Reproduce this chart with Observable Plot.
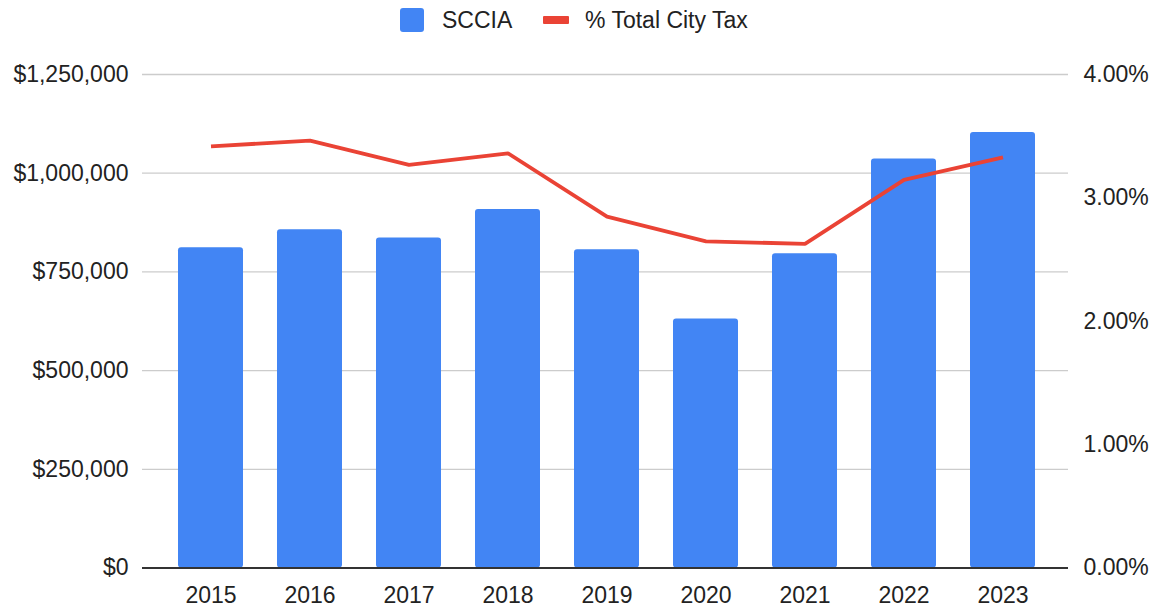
<!DOCTYPE html>
<html>
<head>
<meta charset="utf-8">
<script src="https://cdn.jsdelivr.net/npm/d3@7"></script>
<script src="https://cdn.jsdelivr.net/npm/@observablehq/plot@0.6"></script>
<style>
  html, body { margin: 0; padding: 0; background: #fff; }
  body { width: 1156px; height: 611px; overflow: hidden; font-family: "Liberation Sans", Arial, sans-serif; }
  #legend { height: 40px; position: relative; font-size: 23px; color: #222; }
  #legend .item { position: absolute; top: 8px; display: flex; align-items: center; height: 24px; }
  #legend .sw-bar { width: 24px; height: 24px; background: #4285F4; border-radius: 3px; margin-right: 18px; flex: none; }
  #legend .sw-line { width: 26px; height: 8px; background: #EA4335; border-radius: 1px; margin-right: 16px; flex: none; }
</style>
</head>
<body>
<div id="legend">
  <div class="item" style="left:400px"><div class="sw-bar"></div><span>SCCIA</span></div>
  <div class="item" style="left:543px"><div class="sw-line"></div><span>% Total City Tax</span></div>
</div>
<div id="chart"></div>
<script>
const years = ["2015","2016","2017","2018","2019","2020","2021","2022","2023"];
const sccia = [811000, 857000, 836000, 908000, 806000, 631000, 796000, 1036000, 1103000];
const pctTotalCityTax = [3.418, 3.464, 3.267, 3.361, 2.848, 2.648, 2.627, 3.146, 3.329];
const leftTicks = [0, 250000, 500000, 750000, 1000000, 1250000];
const rightTicks = [0, 1, 2, 3, 4];

const yMax = 1250000, pMax = 4;
const toY = p => p / pMax * yMax;

const rows = years.map((y, i) => ({year: y, value: sccia[i], pct: pctTotalCityTax[i], py: toY(pctTotalCityTax[i])}));

const fmtDollar = d => "$" + d3.format(",")(d);
const chart = Plot.plot({
  width: 1156,
  height: 571,
  marginLeft: 142,
  marginRight: 88,
  marginTop: 34,
  marginBottom: 43.5,
  style: {fontFamily: "'Liberation Sans', Arial, sans-serif", fontSize: "23px", color: "#222", background: "#fff"},
  x: {domain: years, paddingInner: 0.345, paddingOuter: 0, insetLeft: 35, insetRight: 32.5, label: null},
  y: {domain: [0, yMax], label: null},
  marks: [
    Plot.ruleY(leftTicks.slice(1), {stroke: "#cccccc", strokeWidth: 1.3}),
    Plot.barY(rows, {x: "year", y: "value", fill: "#4285F4", rx: 3}),
    Plot.ruleY([0], {stroke: "#333", strokeWidth: 2}),
    Plot.line(rows, {x: "year", y: "py", stroke: "#EA4335", strokeWidth: 3.8, strokeLinejoin: "miter", strokeLinecap: "butt"}),
    Plot.axisX({tickSize: 0, tickPadding: 18.5, label: null, fontSize: 23, color: "#222"}),
    Plot.axisY({ticks: leftTicks, tickSize: 0, tickPadding: 14, tickFormat: fmtDollar, label: null, fontSize: 23}),
    Plot.axisY({anchor: "right", ticks: rightTicks.map(toY), tickSize: 0, tickPadding: 15,
      tickFormat: d => (d / yMax * pMax).toFixed(2) + "%", label: null, fontSize: 23})
  ]
});
document.getElementById("chart").appendChild(chart);
</script>
</body>
</html>
